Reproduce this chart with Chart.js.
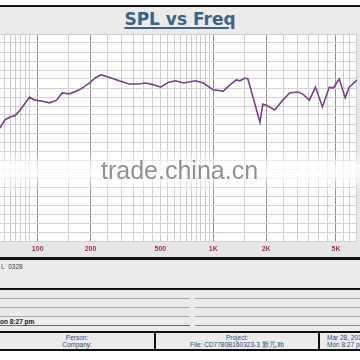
<!DOCTYPE html>
<html><head><meta charset="utf-8">
<script src="https://cdn.jsdelivr.net/npm/chart.js@4/dist/chart.umd.min.js"></script>
<style>
html,body{margin:0;padding:0;background:#fff;width:360px;height:360px;overflow:hidden;font-family:"Liberation Sans",Arial,sans-serif;}
.abs{position:absolute;}
.blk{position:absolute;left:0;width:360px;background:#111;}
.band{position:absolute;left:0;width:360px;background:#ebebeb;}
#title{position:absolute;left:0;width:360px;top:9px;text-align:center;font:bold 17px "DejaVu Sans",sans-serif;color:#3d6283;text-decoration:underline;text-decoration-thickness:2px;text-underline-offset:2px;}
#wrap{position:absolute;left:0;top:33px;width:360px;height:224px;background:#e6e6e6;}
.ln{position:absolute;height:1px;background:#a8a8a8;}
.sm{position:absolute;font-size:6.5px;color:#2c4d7c;white-space:nowrap;}
</style></head><body>
<div class="blk" style="top:5px;height:2px"></div>
<div class="band" style="top:7px;height:26px"></div>
<div id="title">SPL vs Freq</div>
<div id="wrap"><canvas id="c" width="360" height="224"></canvas></div>
<div class="abs" style="left:0;top:150px;width:360px;height:42px;background:linear-gradient(rgba(255,255,255,0),rgba(255,255,255,0.8) 40%,rgba(255,255,255,0.8) 60%,rgba(255,255,255,0));"></div>
<div class="abs" style="left:101px;top:156px;font:25px 'Liberation Sans',Arial,sans-serif;color:rgba(110,110,110,0.75);">trade.china.cn</div>
<div class="blk" style="top:257px;height:3px"></div>
<div class="band" style="top:260px;height:28px"></div>
<div class="abs" style="left:1px;top:263px;font-size:6.5px;color:#444;">L&nbsp;&nbsp;0328</div>
<div class="blk" style="top:288px;height:2px"></div>
<div class="band" style="top:290px;height:41px"></div>
<div class="ln" style="left:0;width:190px;top:298px"></div>
<div class="ln" style="left:195px;width:165px;top:298px"></div>
<div class="ln" style="left:0;width:190px;top:307px"></div>
<div class="ln" style="left:195px;width:165px;top:307px"></div>
<div class="ln" style="left:0;width:190px;top:316px"></div>
<div class="ln" style="left:195px;width:165px;top:316px"></div>
<div class="ln" style="left:0;width:190px;top:325px;background:#666"></div>
<div class="ln" style="left:195px;width:165px;top:325px;background:#888"></div>
<div class="abs" style="left:0;top:318px;font:bold 6.5px 'Liberation Sans',Arial,sans-serif;color:#222;">on 8:27 pm</div>
<div class="blk" style="top:331px;height:2px"></div>
<div class="band" style="top:333px;height:16px"></div>
<div class="abs" style="left:154px;top:333px;width:2px;height:16px;background:#111"></div>
<div class="abs" style="left:318px;top:333px;width:2px;height:16px;background:#111"></div>
<div class="sm" style="left:0;width:154px;top:334px;text-align:center">Person:</div>
<div class="sm" style="left:0;width:154px;top:341px;text-align:center">Company:</div>
<div class="sm" style="left:156px;width:162px;top:334px;text-align:center">Project:</div>
<div class="sm" style="left:156px;width:162px;top:341px;text-align:center">File: CD7780B160323-3 新兀.llb</div>
<div class="sm" style="left:327px;top:334px">Mar 28, 2016</div>
<div class="sm" style="left:327px;top:341px">Mon 8:27 pm</div>
<div class="blk" style="top:349px;height:2px"></div>
<script>
// ---- data ----
const freqs = [61, 65, 70, 74, 79, 90, 96, 105, 117, 128, 138, 152, 173, 197, 215, 230, 255, 291, 331, 377, 413, 458, 502, 557, 610, 677, 791, 878, 1000, 1140, 1265, 1350, 1420, 1515, 1575, 1845, 1915, 2045, 2240, 2485, 2725, 3020, 3225, 3530, 3820, 4185, 4580, 4825, 5220, 5640, 5945, 6600];
const spl = [75.1, 76.9, 77.6, 77.8, 79.0, 82.0, 81.3, 81.1, 80.7, 81.3, 82.9, 82.7, 83.6, 85.1, 86.4, 86.9, 86.4, 85.6, 84.9, 84.9, 85.1, 84.7, 84.2, 85.3, 85.6, 85.1, 85.6, 85.1, 83.6, 83.3, 84.9, 85.8, 85.6, 86.2, 86.0, 76.4, 80.4, 80.0, 79.1, 81.3, 82.9, 83.1, 82.7, 81.3, 84.2, 79.8, 84.2, 84.0, 86.0, 81.8, 84.2, 85.8];
const gridFreqs = [65, 70, 75, 80, 85, 90, 100, 150, 200, 250, 300, 350, 400, 450, 500, 550, 600, 650, 700, 750, 800, 850, 900, 950, 1000, 1500, 2000, 2500, 3000, 3500, 4000, 4500, 5000, 5500, 6000, 6500];
const tickLabels = {100: '100', 200: '200', 500: '500', 1000: '1K', 2000: '2K', 5000: '5K'};
const darkLines = [100, 200, 1000, 2000, 5000];

const bg = {
  id: 'bg',
  beforeDraw(chart) {
    const {ctx, chartArea: a} = chart;
    ctx.save(); ctx.fillStyle = '#fff';
    ctx.fillRect(a.left, a.top, a.right - a.left, a.bottom - a.top);
    ctx.restore();
  }
};

new Chart(document.getElementById('c'), {
  type: 'line',
  data: {
    datasets: [{
      data: freqs.map((f, i) => ({x: f, y: spl[i]})),
      borderColor: '#7b3f8c',
      borderWidth: 1.6,
      pointRadius: 0,
      tension: 0,
      fill: false
    }]
  },
  options: {
    responsive: false,
    animation: false,
    layout: {padding: {top: 1, left: 0, right: 0, bottom: 0}},
    plugins: {legend: {display: false}, tooltip: {enabled: false}},
    scales: {
      x: {
        type: 'logarithmic',
        min: 61, max: 6600,
        afterBuildTicks: s => { s.ticks = gridFreqs.map(v => ({value: v})); },
        afterFit: s => { s.height = 16; },
        border: {display: false},
        grid: {
          color: c => (c.tick && darkLines.includes(c.tick.value)) ? '#8e8e8e' : '#cdcdcd',
          lineWidth: 1,
          drawTicks: false
        },
        ticks: {
          autoSkip: false, maxRotation: 0, minRotation: 0, padding: 4,
          color: '#a3305c',
          font: {family: 'Liberation Sans', size: 7, weight: 'bold'},
          callback: v => tickLabels[v] || ''
        }
      },
      y: {
        min: 50, max: 96,
        afterFit: s => { s.width = 0; },
        border: {display: false},
        grid: {color: '#d2d2d2', drawTicks: false},
        ticks: {display: false, stepSize: 2}
      }
    }
  },
  plugins: [bg]
});
</script>
</body></html>
